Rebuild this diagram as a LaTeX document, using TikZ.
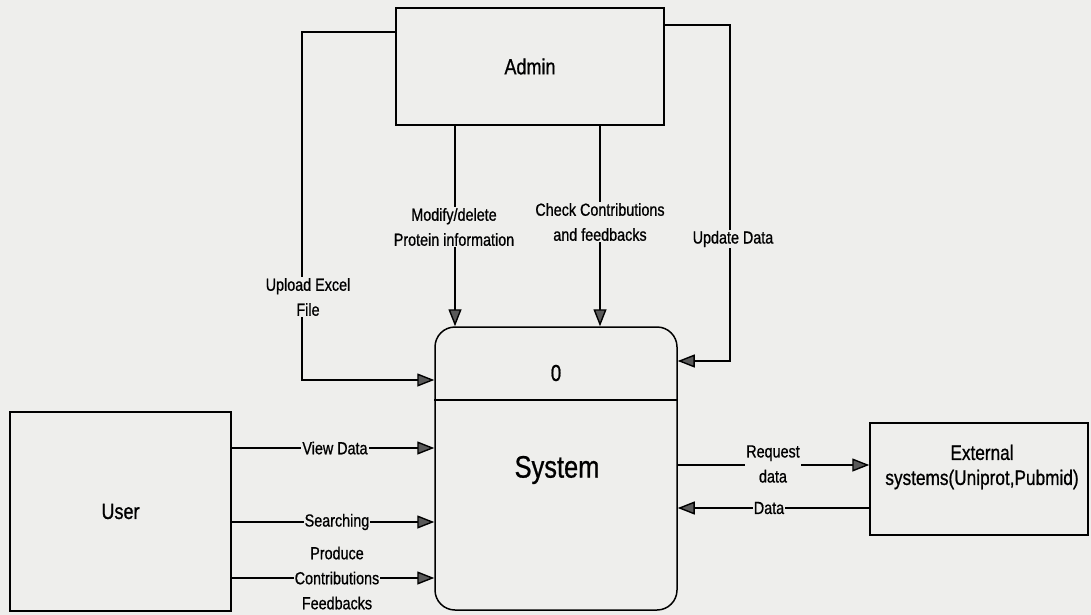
\documentclass[tikz,border=0pt]{standalone}
\usepackage{fontspec}
\setmainfont{Liberation Sans}[FakeStretch=0.82,FakeBold=0.8]
\usetikzlibrary{arrows.meta,calc}
\definecolor{paper}{RGB}{238,238,236}
\tikzset{
  box/.style={draw, line width=1.5pt, fill=paper, inner sep=0pt},
  flow/.style={line width=1.4pt, -{Triangle[length=17pt,width=13pt,fill=black!65]}},
  lbl/.style={fill=paper, inner sep=1pt, align=center, font=\fontsize{17.5}{25}\selectfont},
  big/.style={font=\fontsize{22}{26}\selectfont},
}
\begin{document}
\begin{tikzpicture}[x=1pt,y=-1pt]
\useasboundingbox (0,0) rectangle (1091,615);
\fill[paper] (0,0) rectangle (1091,615);

% entities
\node[box, big, minimum width=268pt, minimum height=117pt] (admin) at (530,66.5) {Admin};
\node[box, big, minimum width=221pt, minimum height=199pt] (user) at (120.5,511.5) {User};
\node[box, minimum width=218pt, minimum height=112pt] (ext) at (979,479) {};
\node[align=center, font=\fontsize{21}{25}\selectfont] (exttxt) at (982,467) {External\\systems(Uniprot,Pubmid)};

% process
\node[box, rounded corners=20pt, minimum width=242pt, minimum height=283pt] (sys) at (556,468.5) {};
\draw[line width=1.5pt] (sys.west |- 0,400) coordinate (dl) -- (sys.east |- 0,400) coordinate (dr);
\node[font=\fontsize{23}{26}\selectfont] (zero) at (556,373) {0};
\node[font=\fontsize{31}{34}\selectfont] (systxt) at (557,470) {System};

% flows
\draw[flow] (admin.west |- 0,32) -- (302,32) -- (302,380) -- (sys.west |- 0,380);
\node[lbl] (l1) at (308,297) {Upload Excel\\File};

\draw[flow] (admin.south -| 455,0) -- (sys.north -| 455,0);
\node[lbl] (l2) at (454,227) {Modify/delete\\Protein information};

\draw[flow] (admin.south -| 600,0) -- (sys.north -| 600,0);
\node[lbl] (l3) at (600,222) {Check Contributions\\and feedbacks};

\draw[flow] (admin.east |- 0,25) -- (730,25) -- (730,361) -- (sys.east |- 0,361);
\node[lbl] (l4) at (733,239) {Update Data};

\draw[flow] (user.east |- 0,448) -- (sys.west |- 0,448);
\node[lbl] (l5) at (335,448) {View Data};

\draw[flow] (user.east |- 0,522) -- (sys.west |- 0,522);
\node[lbl] (l6) at (337,522) {Searching};

\draw[flow] (user.east |- 0,578) -- (sys.west |- 0,578);
\node[lbl] (l7) at (337,578) {Produce\\Contributions\\Feedbacks};

\draw[flow] (sys.east |- 0,465) -- (ext.west |- 0,465);
\node[lbl] (l8) at (773,464) {Request\\data};

\draw[flow] (ext.west |- 0,508) -- (sys.east |- 0,508);
\node[lbl] (l9) at (769,508) {Data};
\end{tikzpicture}
\end{document}
